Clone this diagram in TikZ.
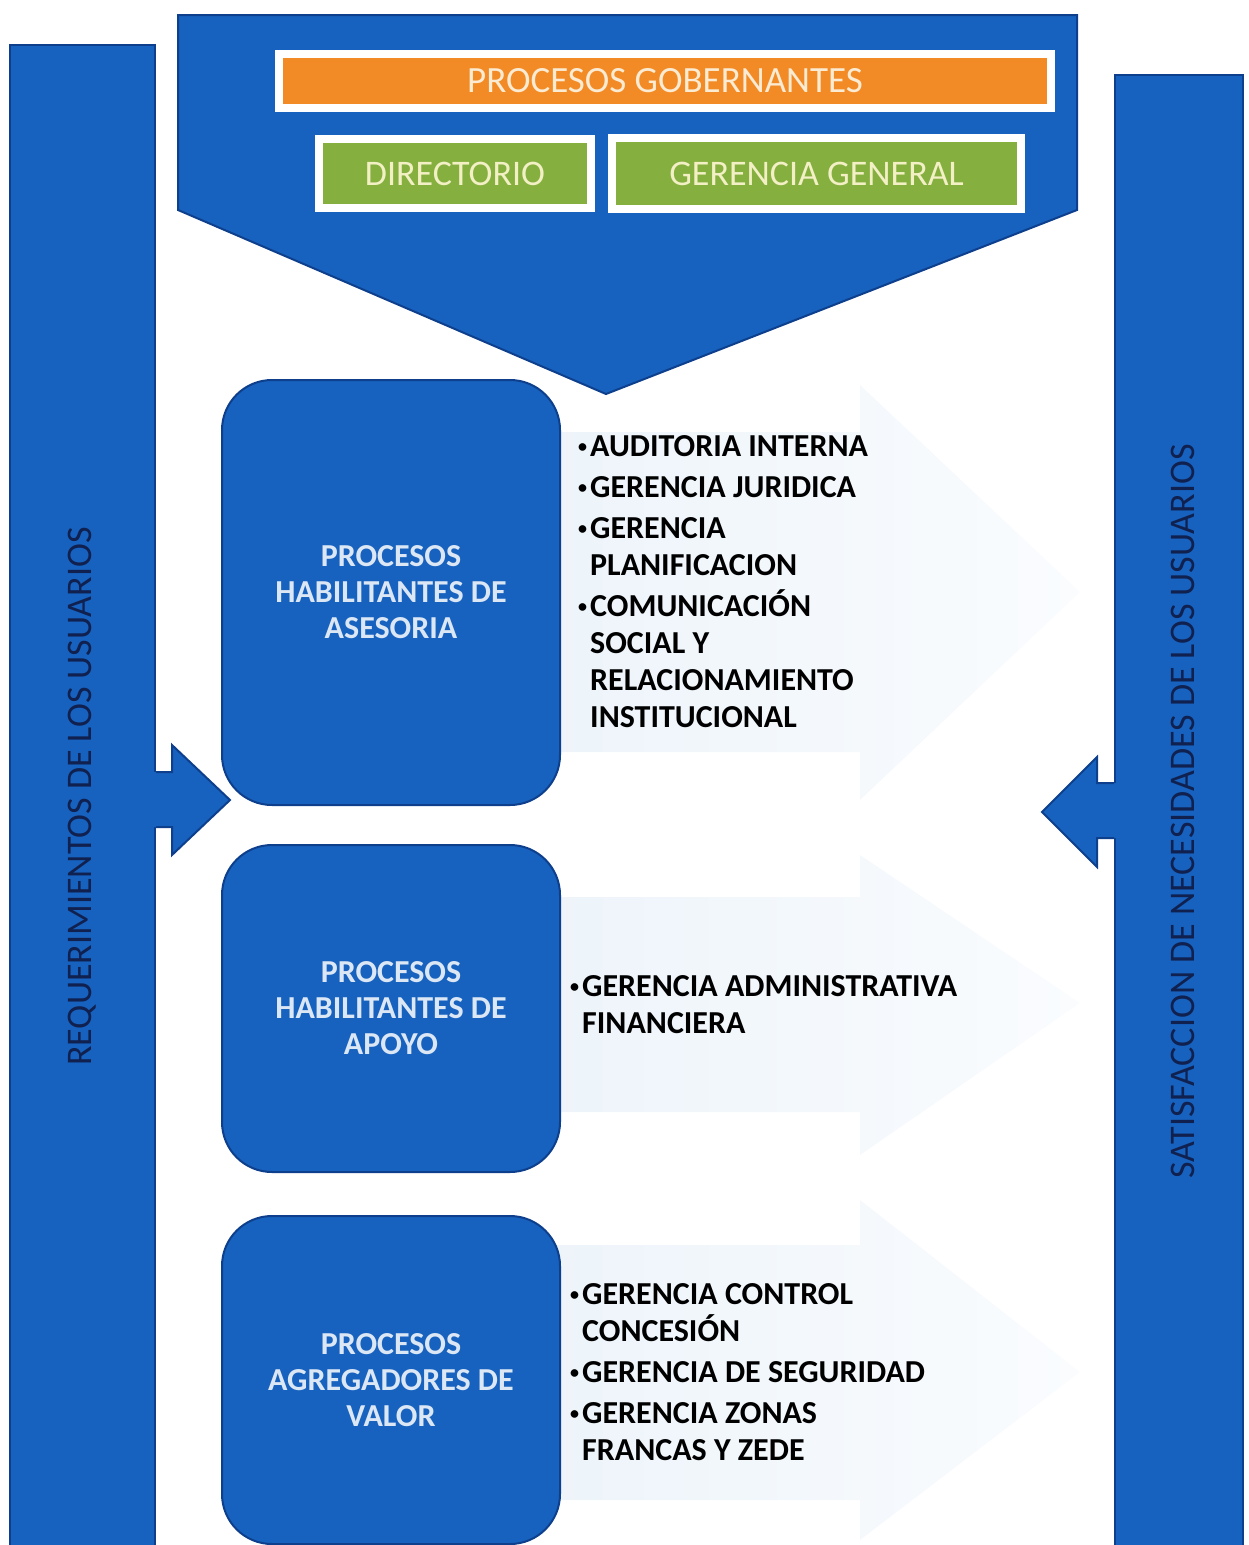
\documentclass[tikz,border=0pt]{standalone}
\usepackage{fontspec}
\setmainfont{Carlito}
\usetikzlibrary{positioning}
\definecolor{orgblue}{HTML}{1762BE}
\definecolor{orgedge}{HTML}{0D3F8C}
\definecolor{orgnavy}{HTML}{10204F}
\definecolor{orgorange}{HTML}{F28B26}
\definecolor{orggreen}{HTML}{85AF3F}
\definecolor{orgcream}{HTML}{FBEBD2}
\definecolor{orglime}{HTML}{F2F0C4}
\definecolor{orgpale}{HTML}{DCE7F5}
\definecolor{orgmist}{HTML}{EDF4FA}
\definecolor{orgmistlight}{HTML}{FAFCFE}
\newcommand{\itemdot}{\makebox[12pt][l]{\fontsize{18}{18}\selectfont\raisebox{4pt}{•}}}
\newcommand{\itemgap}{\hspace*{12pt}}

\begin{document}
\begin{tikzpicture}[x=1pt,y=-1pt,
  every node/.style={inner sep=0pt},
  sidebar/.style={draw=orgedge,line width=2pt,fill=orgblue},
  sidetext/.style={rotate=90,text=orgnavy,font=\fontsize{36}{40}\selectfont},
  topbox/.style={draw=white,line width=8pt,text=orgcream,font=\fontsize{37}{42}\selectfont},
  unitbox/.style={draw=white,line width=8pt,fill=orggreen,text=orglime,font=\fontsize{36}{42}\selectfont},
  procbox/.style={draw=orgedge,line width=2pt,fill=orgblue,rounded corners=50pt,minimum width=338pt,
    text=orgpale,align=center,font=\bfseries\fontsize{32}{36}\selectfont},
  items/.style={anchor=west,align=left,font=\bfseries\fontsize{32}{37}\selectfont},
  mist/.style={left color=orgmist,right color=orgmistlight}
]
\useasboundingbox (0,0) rectangle (1249,1545);

% faint arrows behind the lists
\shade[mist] (540,432) -- (860,432) -- (860,385) -- (1080,592) -- (860,800) -- (860,752) -- (540,752) -- cycle;
\shade[mist] (540,897) -- (860,897) -- (860,855) -- (1080,1003) -- (860,1155) -- (860,1112) -- (540,1112) -- cycle;
\shade[mist] (540,1245) -- (860,1245) -- (860,1200) -- (1080,1372) -- (860,1540) -- (860,1500) -- (540,1500) -- cycle;

% side bars
\node[sidebar,minimum width=145pt,minimum height=1503pt] (req) at (82.5,796.5) {};
\node[sidetext] (reqtxt) at (req.center) {REQUERIMIENTOS DE LOS USUARIOS};
\node[sidebar,minimum width=128pt,minimum height=1473pt] (sat) at (1179,811.5) {};
\node[sidetext] (sattxt) at ([xshift=4pt]sat.center) {SATISFACCION DE NECESIDADES DE LOS USUARIOS};

\fill[orgblue] (150,772) -- (172,772) -- (172,745) -- (230,800) -- (172,855) -- (172,827) -- (150,827) -- cycle;
\draw[orgedge,line width=2pt,line join=miter] (req.east |- 0,772) -- (172,772) -- (172,745) -- (230,800) -- (172,855) -- (172,827) -- (req.east |- 0,827);
\fill[orgblue] (1120,783) -- (1097,783) -- (1097,757) -- (1042,812) -- (1097,867) -- (1097,838) -- (1120,838) -- cycle;
\draw[orgedge,line width=2pt,line join=miter] (sat.west |- 0,783) -- (1097,783) -- (1097,757) -- (1042,812) -- (1097,867) -- (1097,838) -- (sat.west |- 0,838);

% governing processes
\draw[orgedge,line width=2pt,fill=orgblue] (178,15) -- (1077,15) -- (1077,210) -- (606,394) -- (178,210) -- cycle;
\node[topbox,fill=orgorange,minimum width=772pt,minimum height=54pt] (gob) at (665,81) {PROCESOS GOBERNANTES};
\node[unitbox,minimum width=272pt,minimum height=69pt] (dir) at (455,173.5) {DIRECTORIO};
\node[unitbox,minimum width=409pt,minimum height=71pt,right=13pt of dir] (gg) {GERENCIA GENERAL};

% process groups
\node[procbox,minimum height=425pt] (ase) at (391,592.5) {PROCESOS\\HABILITANTES DE\\ASESORIA};
\node[procbox,minimum height=327pt,below=38pt of ase] (apo) {PROCESOS\\HABILITANTES DE\\APOYO};
\node[procbox,minimum height=328pt,below=42pt of apo] (val) {PROCESOS\\AGREGADORES DE\\VALOR};

\node[items] (aselist) at (578,582) {\itemdot AUDITORIA INTERNA\\[4pt]\itemdot GERENCIA JURIDICA\\[4pt]\itemdot GERENCIA\\\itemgap PLANIFICACION\\[4pt]\itemdot COMUNICACIÓN\\\itemgap SOCIAL Y\\\itemgap RELACIONAMIENTO\\\itemgap INSTITUCIONAL};
\node[items] (apolist) at (570,1005) {\itemdot GERENCIA ADMINISTRATIVA\\\itemgap FINANCIERA};
\node[items] (vallist) at (570,1372) {\itemdot GERENCIA CONTROL\\\itemgap CONCESIÓN\\[4pt]\itemdot GERENCIA DE SEGURIDAD\\[4pt]\itemdot GERENCIA ZONAS\\\itemgap FRANCAS Y ZEDE};
\end{tikzpicture}
\end{document}
